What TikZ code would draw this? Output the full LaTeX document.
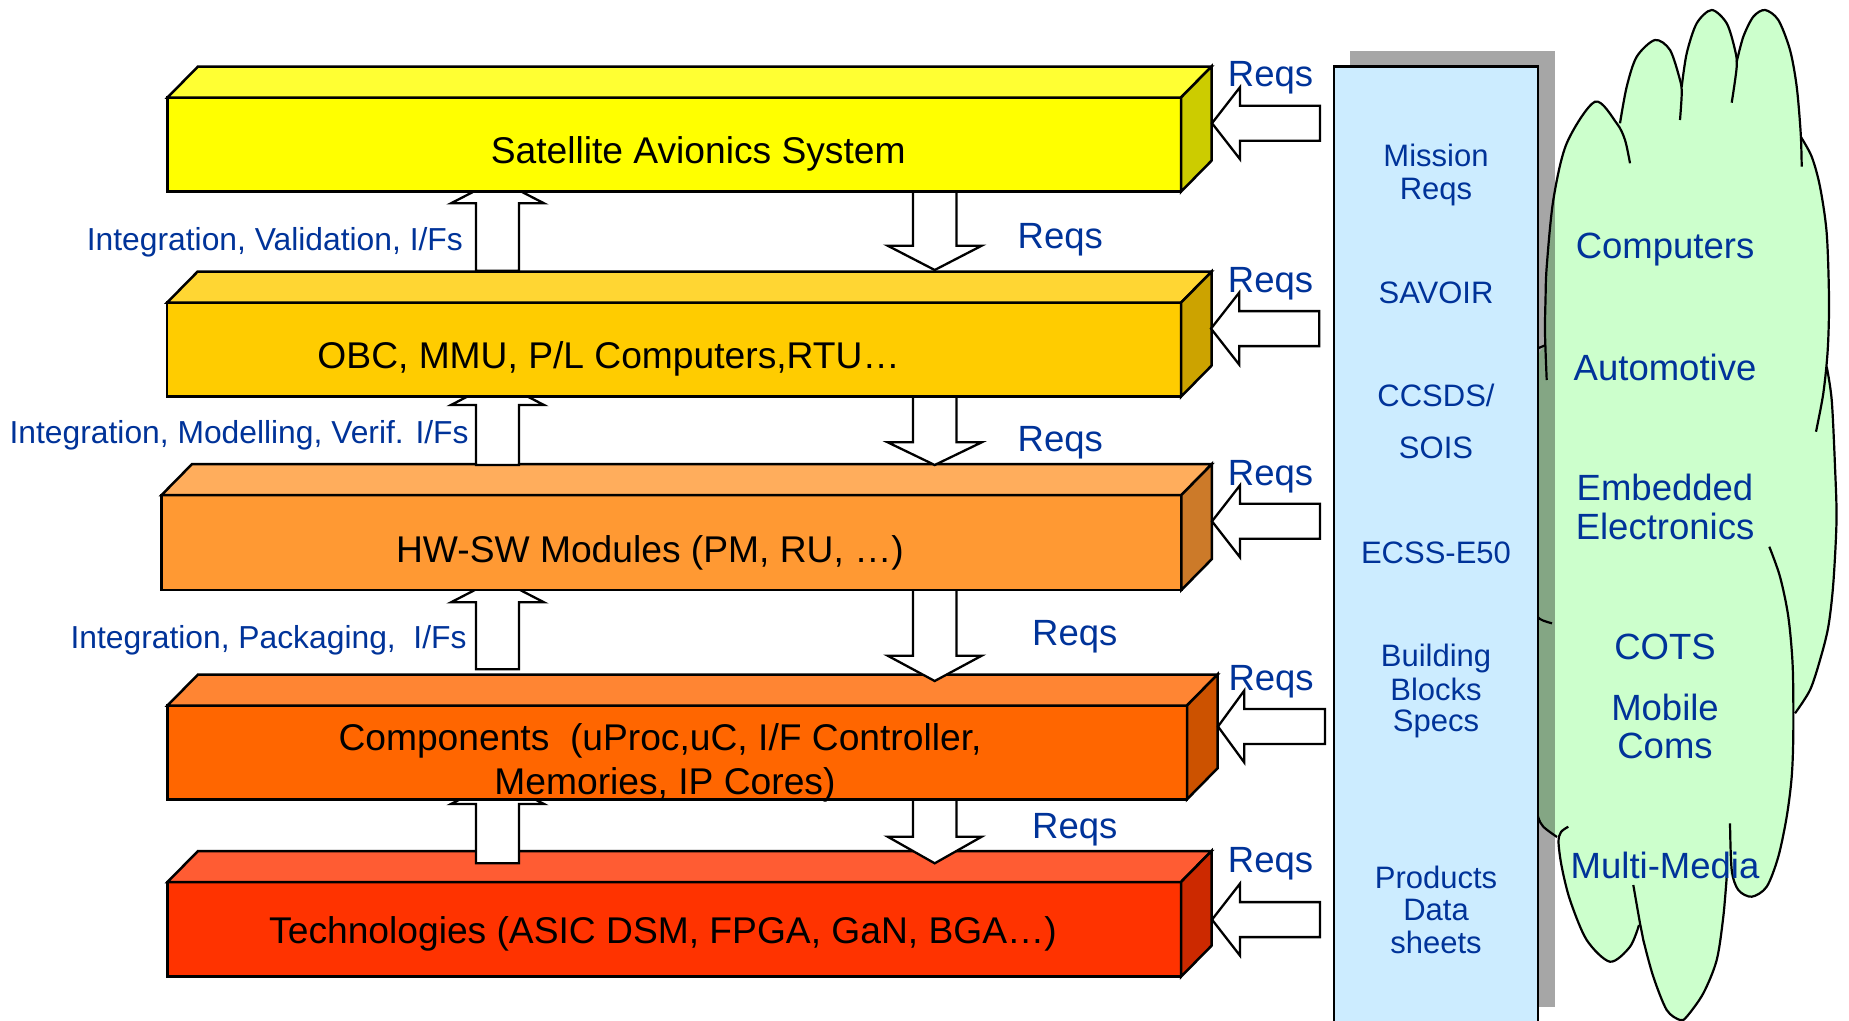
\documentclass[tikz,border=0pt]{standalone}
\usepackage{fontspec}
\setmainfont{Liberation Sans}
\usetikzlibrary{calc}
\definecolor{txtblue}{RGB}{0,51,153}
\definecolor{frA}{HTML}{FFFF00}\definecolor{tpA}{HTML}{FFFF33}\definecolor{sdA}{HTML}{CCCC00}
\definecolor{frB}{HTML}{FFCC00}\definecolor{tpB}{HTML}{FFD633}\definecolor{sdB}{HTML}{CCA300}
\definecolor{frC}{HTML}{FF9933}\definecolor{tpC}{HTML}{FFAD5C}\definecolor{sdC}{HTML}{CC7A29}
\definecolor{frD}{HTML}{FF6600}\definecolor{tpD}{HTML}{FF8533}\definecolor{sdD}{HTML}{CC5200}
\definecolor{frE}{HTML}{FF3300}\definecolor{tpE}{HTML}{FF5C33}\definecolor{sdE}{HTML}{CC2900}
\definecolor{bluebox}{HTML}{CCECFF}
\definecolor{cloudg}{HTML}{CCFFCC}
\tikzset{
 slabfront/.style={draw=black, line width=2.5pt, inner sep=0pt, outer sep=0pt, rectangle},
 slabline/.style={draw=black, line width=2.5pt, line join=miter},
 blk/.style={draw=black, fill=white, line width=2.3pt, line join=miter},
 boxtxt/.style={font=\fontsize{37.2}{44}\selectfont, text=black, anchor=base, inner sep=0pt},
 reqs/.style={font=\fontsize{36.5}{44}\selectfont, text=txtblue, anchor=base west, inner sep=0pt},
 sidelab/.style={font=\fontsize{31.8}{38}\selectfont, text=txtblue, anchor=base east, inner sep=0pt},
 stdtxt/.style={font=\fontsize{31}{38}\selectfont, text=txtblue, anchor=base, inner sep=0pt},
 cloudtxt/.style={font=\fontsize{36.5}{44}\selectfont, text=txtblue, anchor=base, inner sep=0pt},
 cloudline/.style={draw=black, line width=2.2pt},
}
% slab: name, x, y, width, height, front, top, side
\newcommand\slab[8]{%
 \node[slabfront, fill=#6, minimum width=#4pt, minimum height=#5pt, anchor=north west] (#1) at (#2,#3) {};
 \draw[slabline, fill=#7] (#1.north west) -- ++(30.5,-31) -- ($(#1.north east)+(30.5,-31)$) -- (#1.north east) -- cycle;
 \draw[slabline, fill=#8] (#1.north east) -- ++(30.5,-31) -- ($(#1.south east)+(30.5,-31)$) -- (#1.south east) -- cycle;
}
% up arrow: center x, tip y, head base y, tail y
\newcommand\blkUp[4]{\draw[blk] (#1-21.5,#4) -- (#1-21.5,#3) -- (#1-46.5,#3) -- (#1,#2) -- (#1+46.5,#3) -- (#1+21.5,#3) -- (#1+21.5,#4) -- cycle;}
% down arrow: center x, tip y, head base y, tail y
\newcommand\blkDown[4]{\draw[blk] (#1-21.7,#4) -- (#1-21.7,#3) -- (#1-47,#3) -- (#1,#2) -- (#1+47,#3) -- (#1+21.7,#3) -- (#1+21.7,#4) -- cycle;}
% left arrow: tip x, center y, head back x, right end x
\newcommand\blkLeft[4]{\draw[blk] (#1,#2) -- (#3,#2-36) -- (#3,#2-17.5) -- (#4,#2-17.5) -- (#4,#2+17.5) -- (#3,#2+17.5) -- (#3,#2+36) -- cycle;}
\begin{document}
\begin{tikzpicture}[x=1pt,y=-1pt]
\useasboundingbox (0,0) rectangle (1849,1020);
\fill[white] (0,0) rectangle (1849,1020);
\begin{scope}
\clip (0,0) rectangle (1849,1020);
% ---------- cloud ----------
\fill[cloudg] plot[smooth] coordinates {(1545.5,345) (1545,300) (1546.7,266.7) (1553.3,200) (1566.7,143.3) (1595,101.7) (1618,124)}
 -- plot[smooth] coordinates {(1618,124) (1626.7,86.7) (1636.7,56.7) (1655,40) (1670,50) (1680,80) (1681.7,88)}
 -- plot[smooth] coordinates {(1681.7,88) (1686.7,53.3) (1696.7,23.3) (1711.7,10) (1726.7,23.3) (1735,50) (1736.7,61.7)}
 -- plot[smooth] coordinates {(1736.7,61.7) (1743.3,36.7) (1753.3,16.7) (1765,10) (1778.3,20) (1790,50) (1796.7,86.7) (1800.7,136.7)}
 -- plot[smooth] coordinates {(1800.7,136.7) (1811.7,156.7) (1820,186.7) (1826.7,233.3) (1829,300) (1827,367)}
 -- plot[smooth] coordinates {(1827,367) (1831.7,400) (1835,466.7) (1836.5,520) (1833.3,583.3) (1828.3,626.7) (1820,660) (1810,690) (1794,712)}
 -- plot[smooth] coordinates {(1794,712) (1793.3,733.3) (1791.7,776.7) (1786.7,816.7) (1778.3,856.7) (1766.7,886.7) (1751.7,896.7) (1738.3,890) (1729,872)}
 -- plot[smooth] coordinates {(1729,872) (1723.3,916.7) (1716.7,960) (1703.3,993.3) (1686.7,1016.7) (1680,1020) (1666.7,1010) (1653.3,976.7) (1643.3,940) (1639,925)}
 -- plot[smooth] coordinates {(1639,925) (1630,946.7) (1610,961.7) (1586.7,940) (1570,900) (1561.7,866.7) (1558.3,836.7)}
 -- plot[smooth] coordinates {(1558.3,836.7) (1543.3,826.7) (1538,816.7) (1522,780) (1518,600) (1522,400) (1545.5,345)} -- cycle;
\draw[cloudline] plot[smooth] coordinates {(1546.7,380) (1545,333.3) (1545.5,300) (1546.7,266.7) (1553.3,200) (1566.7,143.3) (1595,101.7) (1616.7,123.3) (1625,140) (1630,163.3)};
\draw[cloudline] plot[smooth] coordinates {(1620,123.3) (1626.7,86.7) (1636.7,56.7) (1655,40) (1670,50) (1680,80) (1681.7,93.3) (1680,120)};
\draw[cloudline] plot[smooth] coordinates {(1681.7,86.7) (1686.7,53.3) (1696.7,23.3) (1711.7,10) (1726.7,23.3) (1735,50) (1736.7,66.7) (1731.7,102.7)};
\draw[cloudline] plot[smooth] coordinates {(1736.7,61.7) (1743.3,36.7) (1753.3,16.7) (1765,10) (1778.3,20) (1790,50) (1796.7,86.7) (1800.7,133.3) (1801.7,166.7)};
\draw[cloudline] plot[smooth] coordinates {(1800.7,136.7) (1811.7,156.7) (1820,186.7) (1826.7,233.3) (1829,300) (1827.7,350) (1823.3,393.3) (1816,431.7)};
\draw[cloudline] plot[smooth] coordinates {(1826.7,366.7) (1831.7,400) (1835,466.7) (1836.5,520) (1833.3,583.3) (1828.3,626.7) (1820,660) (1810,690) (1795,713.3)};
\draw[cloudline] plot[smooth] coordinates {(1769.3,546.7) (1780,576.7) (1788.3,616.7) (1792.7,666.7) (1793.3,733.3) (1791.7,776.7) (1786.7,816.7) (1778.3,856.7) (1766.7,886.7) (1751.7,896.7) (1738.3,890) (1731.7,870) (1730,823.3)};
\draw[cloudline] plot[smooth] coordinates {(1726.7,876.7) (1723.3,916.7) (1716.7,960) (1703.3,993.3) (1686.7,1016.7) (1680,1020) (1666.7,1010) (1653.3,976.7) (1643.3,940) (1640,923.3) (1633.3,885)};
\draw[cloudline] plot[smooth] coordinates {(1639,925) (1630,946.7) (1610,961.7) (1586.7,940) (1570,900) (1561.7,866.7) (1558.5,842) (1561,832) (1568.3,826.7)};
\draw[cloudline] plot[smooth] coordinates {(1557,837) (1543.3,826.7) (1538,816.7) (1530,790)};
\draw[cloudline] plot[smooth] coordinates {(1530,608) (1540,619) (1552,623.3)};
\draw[cloudline] plot[smooth] coordinates {(1530,353) (1538,348.3) (1546,345)};
% ---------- shadow and standards column ----------
\fill[black, opacity=0.35] (1350,51) rectangle (1554.5,1007);
\draw[fill=bluebox, line width=2.5pt] (1334,66.7) rectangle (1538,1040);
\end{scope}
\node[stdtxt] (m1) at (1436,166.7) {Mission};
\node[stdtxt] (m2) at (1436,199.3) {Reqs};
\node[stdtxt] (m3) at (1436,303.3) {SAVOIR};
\node[stdtxt] (m4) at (1436,406.7) {CCSDS/};
\node[stdtxt] (m5) at (1436,458.3) {SOIS};
\node[stdtxt] (m6) at (1436,563.3) {ECSS-E50};
\node[stdtxt] (m7) at (1436,666.7) {Building};
\node[stdtxt] (m8) at (1436,700) {Blocks};
\node[stdtxt] (m9) at (1436,731.7) {Specs};
\node[stdtxt] (m10) at (1436,888.3) {Products};
\node[stdtxt] (m11) at (1436,920.7) {Data};
\node[stdtxt] (m12) at (1436,953.3) {sheets};
% cloud texts
\node[cloudtxt] (c1) at (1665,258.3) {Computers};
\node[cloudtxt] (c2) at (1665,380) {Automotive};
\node[cloudtxt] (c3) at (1665,500) {Embedded};
\node[cloudtxt] (c4) at (1665,539.3) {Electronics};
\node[cloudtxt] (c5) at (1665,659.3) {COTS};
\node[cloudtxt] (c6) at (1665,720) {Mobile};
\node[cloudtxt] (c7) at (1665,758.3) {Coms};
\node[cloudtxt] (c8) at (1665,878.3) {Multi-Media};
% ---------- slabs and vertical arrows ----------
\slab{sE}{167.5}{882}{1013.5}{94.7}{frE}{tpE}{sdE}
\blkUp{497.5}{780}{804}{863.3}
\blkDown{934.7}{863.3}{836.7}{792}
\slab{sD}{167.5}{705.5}{1019.5}{93.8}{frD}{tpD}{sdD}
\blkUp{497.5}{578.3}{602.3}{669.3}
\blkDown{934.7}{681}{655.7}{583}
\slab{sC}{161.6}{495}{1019.8}{95}{frC}{tpC}{sdC}
\blkUp{497.5}{381}{405}{465}
\blkDown{934.7}{465}{442.3}{390}
\slab{sB}{167}{302.7}{1014}{94}{frB}{tpB}{sdB}
\blkUp{497.5}{179.3}{203.3}{270.7}
\blkDown{934.7}{270}{245.7}{185}
\slab{sA}{167.5}{97.5}{1013.5}{94.2}{frA}{tpA}{sdA}
% ---------- requirement arrows from the standards ----------
\blkLeft{1212}{123.2}{1240}{1320}
\blkLeft{1211}{328.6}{1239.2}{1319.2}
\blkLeft{1212}{521.3}{1240}{1320}
\blkLeft{1218}{726.5}{1244.3}{1325}
\blkLeft{1212}{919.6}{1240}{1320}
\node[reqs] (r1) at (1227.7,86) {Reqs};
\node[reqs] (r2) at (1227.7,292.7) {Reqs};
\node[reqs] (r3) at (1227.7,485) {Reqs};
\node[reqs] (r4) at (1228.3,690.7) {Reqs};
\node[reqs] (r5) at (1227.7,872.7) {Reqs};
\node[reqs] (d1) at (1017.5,248) {Reqs};
\node[reqs] (d2) at (1017.5,451.7) {Reqs};
\node[reqs] (d3) at (1032,645) {Reqs};
\node[reqs] (d4) at (1032,838.3) {Reqs};
% ---------- left labels ----------
\node[sidelab] (l1) at (463,250.7) {Integration, Validation, I/Fs};
\node[sidelab] (l2) at (468.8,443.3) {Integration, Modelling, Verif. I/Fs};
\node[sidelab] (l3) at (466.7,648.3) {Integration, Packaging,~~I/Fs};
% ---------- slab texts ----------
\node[boxtxt] (tA) at (698.2,163.3) {Satellite Avionics System};
\node[boxtxt] (tB) at (608.6,368.3) {OBC, MMU, P/L Computers,RTU…};
\node[boxtxt] (tC) at (650,562.5) {HW-SW Modules (PM, RU, …)};
\node[boxtxt] (tD1) at (660,750) {Components~~(uProc,uC, I/F Controller,};
\node[boxtxt] (tD2) at (665,794.3) {Memories, IP Cores)};
\node[boxtxt] (tE) at (663,943) {Technologies (ASIC DSM, FPGA, GaN, BGA…)};
\end{tikzpicture}
\end{document}
